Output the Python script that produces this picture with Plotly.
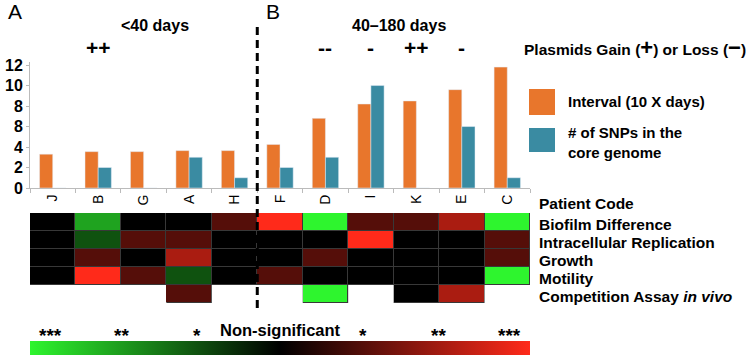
import plotly.graph_objects as go

W, H = 749, 356

patients = ["J", "B", "G", "A", "H", "F", "D", "I", "K", "E", "C"]
interval = [3.3, 3.55, 3.55, 3.65, 3.65, 4.25, 6.8, 8.2, 8.5, 9.6, 11.8]
snps = [0, 2, 0, 3, 1, 2, 3, 10, 0, 6, 1]
plasmids = ["", "++", "", "", "", "", "--", "-", "++", "-", ""]

y_tickvals = [0, 2, 4, 6, 8, 10, 12]
y_ticktext = ["0", "2", "4", "8", "8", "10", "12"]

traits = ["Biofilm Difference", "Intracellular Replication", "Growth",
          "Motility", "Competition Assay <i>in vivo</i>"]
# significance levels: -3..-1 green (***..*), 0 non-significant, 1..3 red (*..***)
biofilm =       [0, -2, 0, 0, 1, 3, -3, 1, 1, 2, -3]
intracellular = [0, -1, 1, 1, 0, 0, 0, 3, 0, 0, 1]
growth =        [0, 1, 0, 2, 0, 0, 1, 0, 0, 0, 1]
motility =      [0, 3, 1, -1, 0, 1, 0, 0, 0, 0, -3]
competition =   [None, None, None, 1, None, None, -3, None, 0, 2, None]

scale_labels = ["***", "**", "*", "Non-significant", "*", "**", "***"]
scale_levels = [-2.75, -1.9, -1.0, 0.0, 1.0, 1.9, 2.75]

ORANGE = "#E8762C"
TEAL = "#3A8BA2"
FONT = "Liberation Sans, Arial, sans-serif"

def px(x):
    return x / W

def py(y):
    return 1 - y / H

z = [biofilm, intracellular, growth, motility, competition]

fig = go.Figure()
fig.add_trace(go.Bar(x=patients, y=interval, marker_color=ORANGE, name="Interval (10 X days)",
                     xaxis="x", yaxis="y"))
fig.add_trace(go.Bar(x=patients, y=snps, marker_color=TEAL, name="# of SNPs in the core genome",
                     xaxis="x", yaxis="y"))
fig.add_trace(go.Heatmap(
    z=z, x=list(range(len(patients))), y=list(range(len(traits))),
    xaxis="x2", yaxis="y2", zmin=-3, zmax=3, xgap=1, ygap=1,
    colorscale=[[0, "#2EF52E"], [0.5, "#000000"], [1, "#FF2A1A"]],
    hoverinfo="skip",
    colorbar=dict(orientation="h", lenmode="pixels", len=500, thicknessmode="pixels",
                  thickness=14, x=px(280), xanchor="center", y=py(355), yanchor="bottom",
                  xpad=0, ypad=0, outlinewidth=0, showticklabels=False, ticks=""),
))

shapes = []
n = len(patients)
shapes.append(dict(type="rect", xref="x2", yref="y2", x0=-0.5, x1=n - 0.5, y0=-0.5, y1=3.5,
                   fillcolor="#383838", line=dict(width=0), layer="below"))
for i, v in enumerate(competition):
    if v is not None:
        shapes.append(dict(type="rect", xref="x2", yref="y2", x0=i - 0.5, x1=i + 0.5,
                           y0=3.5, y1=4.5, fillcolor="#383838", line=dict(width=0), layer="below"))
shapes.append(dict(type="line", xref="x2", yref="paper", x0=4.5, x1=4.5, y0=py(27), y1=py(309),
                   line=dict(color="black", width=3, dash="8px,5px")))
shapes.append(dict(type="rect", xref="paper", yref="paper", x0=px(529), x1=px(555), y0=py(115), y1=py(89),
                   fillcolor=ORANGE, line=dict(width=0)))
shapes.append(dict(type="rect", xref="paper", yref="paper", x0=px(529), x1=px(555), y0=py(152), y1=py(128),
                   fillcolor=TEAL, line=dict(width=0)))

ann = []
def text(x, y, t, size=14, xanchor="center", xref="paper", yref="paper", color="black"):
    ann.append(dict(x=x, y=y, xref=xref, yref=yref, text=t, showarrow=False, xanchor=xanchor,
                    align="left", yanchor="middle", font=dict(family=FONT, size=size, color=color)))

text(px(6), py(11), "A", size=21, xanchor="left")
text(px(264), py(11), "B", size=21, xanchor="left")
text(px(155), py(25), "<b>&lt;40 days</b>", size=16)
text(px(399), py(25), "<b>40–180 days</b>", size=16)
for p, s in zip(patients, plasmids):
    if s:
        ann.append(dict(x=p, y=py(47), xref="x", yref="paper", text="<b>" + s + "</b>", showarrow=False,
                        xanchor="center", yanchor="middle", font=dict(family=FONT, size=21, color="black")))
text(px(522), py(47), "<b>Plasmids Gain (<span style='font-size:22px'>+</span>) or Loss (<span style='font-size:22px'>−</span>)</b>",
     size=15.5, xanchor="left")
text(px(566), py(102), "<b>Interval (10 X days)</b>", size=15, xanchor="left")
text(px(566), py(142), "<b># of SNPs in the<br>core genome</b>", size=15, xanchor="left")
text(px(537), py(204), "<b>Patient Code</b>", size=15.5, xanchor="left")
for j, t in enumerate(traits):
    ann.append(dict(x=px(537), y=j + 0.15, xref="paper", yref="y2", text="<b>" + t + "</b>", showarrow=False,
                    xanchor="left", yanchor="middle", font=dict(family=FONT, size=15.5, color="black")))
for lab, lev in zip(scale_labels, scale_levels):
    x_pix = 30 + (lev + 3) / 6 * 500
    if lab == "Non-significant":
        text(px(x_pix), py(330), "<b>" + lab + "</b>", size=16.5)
    else:
        text(px(x_pix), py(335), "<b>" + lab + "</b>", size=19)

fig.update_layout(
    width=W, height=H, margin=dict(l=0, r=0, t=0, b=0, autoexpand=False),
    paper_bgcolor="white", plot_bgcolor="white",
    barmode="group", bargap=0.42, bargroupgap=0, showlegend=False,
    shapes=shapes, annotations=ann,
    font=dict(family=FONT, color="black"),
    xaxis=dict(domain=[px(30), px(530)], anchor="y", showline=True, linecolor="#BBBBBB", linewidth=1,
               ticks="outside", tickson="boundaries", ticklen=4, tickcolor="#BBBBBB",
               tickangle=-90, tickfont=dict(size=14, family=FONT), showgrid=False, zeroline=False),
    yaxis=dict(domain=[py(188), py(62)], anchor="x", range=[0, 12.3], tickvals=y_tickvals,
               ticktext=["<b>" + t + "</b>" for t in y_ticktext], showline=True, linecolor="#BBBBBB",
               ticks="outside", ticklen=3, tickcolor="#BBBBBB", tickfont=dict(size=16, family=FONT),
               showgrid=False, zeroline=False),
    xaxis2=dict(domain=[px(30), px(530)], anchor="y2", range=[-0.5, n - 0.5], visible=False),
    yaxis2=dict(domain=[py(303), py(213)], anchor="x2", range=[4.5, -0.5], visible=False),
)

fig.write_html("out.html", post_script="document.body.style.margin='0';",
               config={"displayModeBar": False})
